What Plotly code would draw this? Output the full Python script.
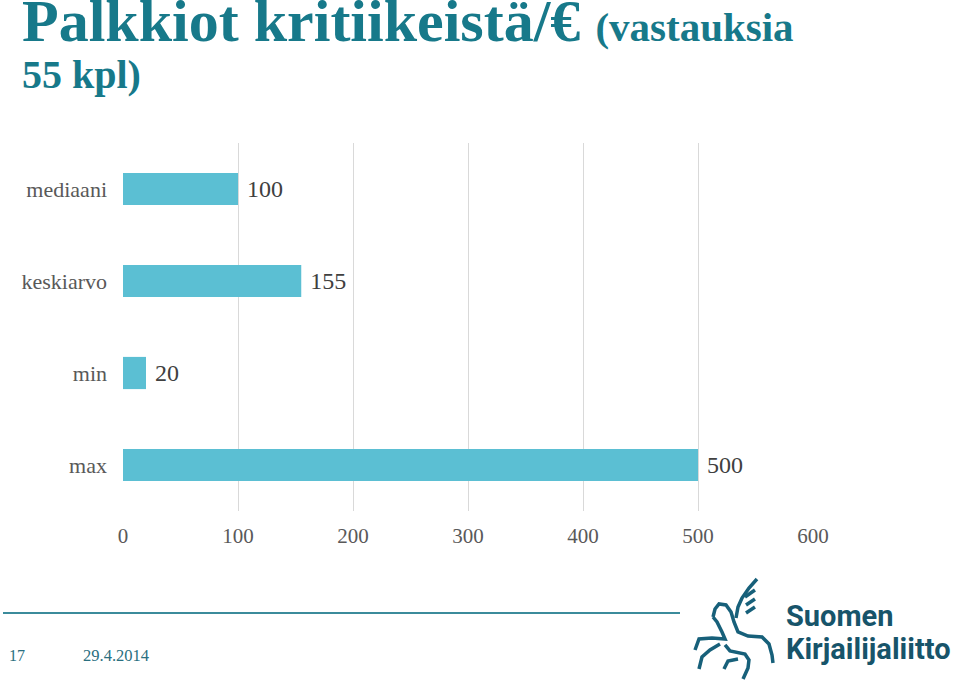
import plotly.graph_objects as go

categories = ["mediaani", "keskiarvo", "min", "max"]
values = [100, 155, 20, 500]
tick_vals = [0, 100, 200, 300, 400, 500, 600]

W, H = 960, 684
L, R, T, B = 123, 147, 143, 173
PW, PH = W - L - R, H - T - B

def px(x):
    return (x - L) / PW

def py(y):
    return (H - B - y) / PH

def path(points):
    return "M " + " L ".join(f"{px(x):.4f},{py(y):.4f}" for x, y in points)

TEAL = "#17798a"
BAR = "#5bbfd3"
LOGO = "#17607a"

fig = go.Figure(go.Bar(
    y=categories, x=values, orientation="h",
    marker=dict(color=BAR, line=dict(width=0)),
    width=0.35,
    text=[" " + str(v) for v in values], textposition="outside",
    textfont=dict(family="Liberation Serif", size=24, color="#404040"),
    cliponaxis=False,
))

# decorative logo strokes (pegasus-like)
logo_strokes = [
    # wing
    [(736, 618), (738, 607), (742, 598), (749, 588), (757, 579)],
    [(745, 597), (755, 590)],
    [(746, 605), (755, 599)],
    [(746, 613), (755, 607)],
    # head, neck, back, rump, hind leg
    [(713, 617), (715, 609), (719, 604), (726, 605), (731, 612), (734, 622), (738, 632),
     (748, 636), (762, 637), (769, 644), (772, 655), (773, 663)],
    # chest and front leg
    [(713, 617), (717, 622), (722, 632), (725, 639), (712, 638), (699, 639), (695, 650)],
    [(720, 644), (710, 650), (702, 657), (699, 669)],
    # belly and hind legs
    [(725, 645), (730, 651), (745, 654), (749, 660), (748, 668), (743, 679)],
    [(738, 659), (728, 661), (724, 669)],
]

shapes = [
    dict(type="line", xref="paper", yref="paper", x0=px(3), x1=px(680), y0=py(613), y1=py(613),
         line=dict(color="#3b8b9b", width=2)),
]
for s in logo_strokes:
    shapes.append(dict(type="path", xref="paper", yref="paper", path=path(s),
                       line=dict(color=LOGO, width=3.5)))

fig.update_layout(
    width=W, height=H,
    margin=dict(l=L, r=R, t=T, b=B),
    plot_bgcolor="white", paper_bgcolor="white",
    showlegend=False,
    xaxis=dict(range=[0, 600], tickvals=tick_vals, showgrid=True, gridcolor="#d9d9d9",
               gridwidth=1, zeroline=False, showline=False, ticks="",
               tickfont=dict(family="Liberation Serif", size=21, color="#595959"),
               ticklabelstandoff=10, fixedrange=True),
    yaxis=dict(autorange="reversed", showgrid=False, zeroline=False, showline=False, ticks="",
               tickfont=dict(family="Liberation Serif", size=22, color="#595959"),
               ticklabelstandoff=15, fixedrange=True),
    annotations=[
        dict(x=px(20), y=py(21), xref="paper", yref="paper", xanchor="left", yanchor="middle",
             text="<b>Palkkiot kritiikeistä/€</b> <b><span style='font-size:41px'>(vastauksia</span></b>",
             showarrow=False, font=dict(family="Liberation Serif", size=60, color=TEAL)),
        dict(x=px(20), y=py(74), xref="paper", yref="paper", xanchor="left", yanchor="middle",
             text="<b>55 kpl)</b>",
             showarrow=False, font=dict(family="Liberation Serif", size=40, color=TEAL)),
        dict(x=px(7), y=py(655), xref="paper", yref="paper", xanchor="left", yanchor="middle",
             text="17", showarrow=False, font=dict(family="Liberation Serif", size=16, color="#2a6f80")),
        dict(x=px(81), y=py(655), xref="paper", yref="paper", xanchor="left", yanchor="middle",
             text="29.4.2014", showarrow=False, font=dict(family="Liberation Serif", size=16.5, color="#2a6f80")),
        dict(x=px(784), y=py(616), xref="paper", yref="paper", xanchor="left", yanchor="middle",
             text="<b>Suomen</b>", showarrow=False,
             font=dict(family="Roboto", size=29, color="#17546a")),
        dict(x=px(784), y=py(649), xref="paper", yref="paper", xanchor="left", yanchor="middle",
             text="<b>Kirjailijaliitto</b>", showarrow=False,
             font=dict(family="Roboto", size=29, color="#17546a")),
    ],
    shapes=shapes,
)

fig.write_html("out.html")
